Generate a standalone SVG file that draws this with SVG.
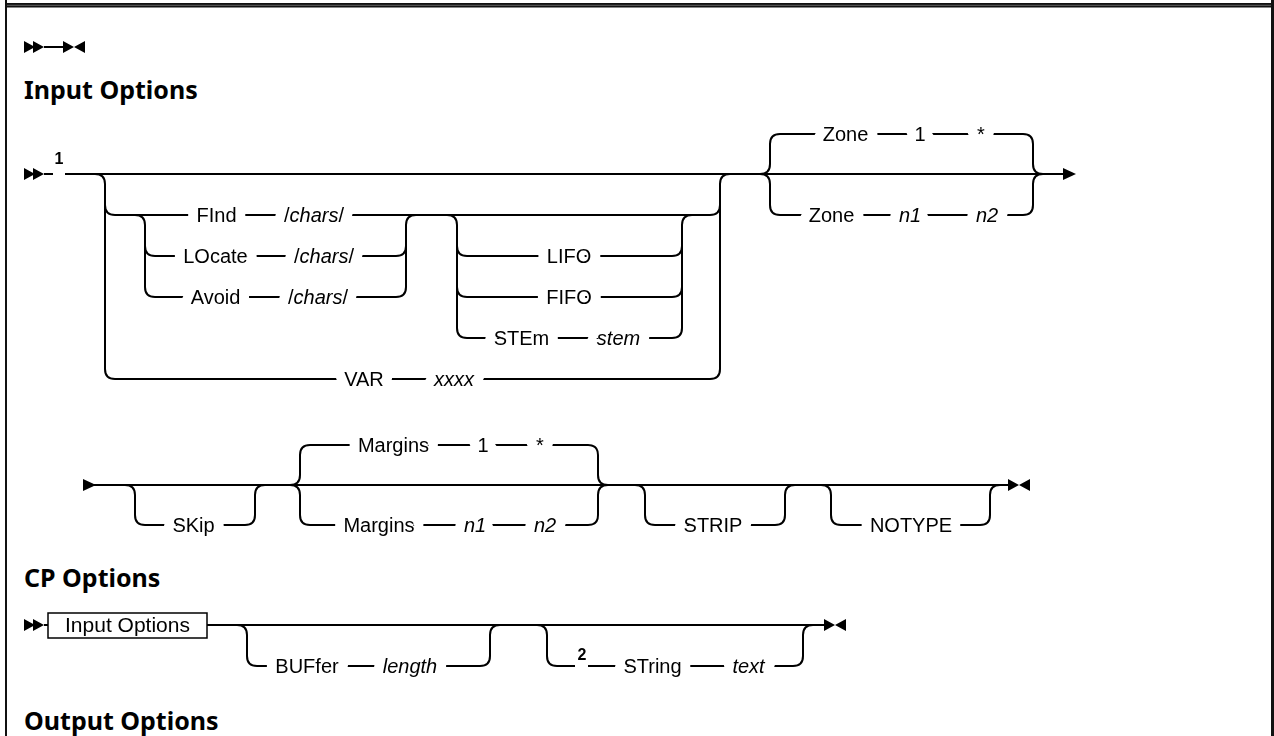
<svg xmlns="http://www.w3.org/2000/svg" width="1274" height="736" viewBox="0 0 1274 736">
<defs>
<style>
.ln{fill:none;stroke:#000;stroke-width:2}
.k{font-family:"Liberation Sans",Arial,sans-serif;font-size:20px;fill:#000;text-anchor:middle}
.v{font-style:italic}
.h{font-family:"Noto Sans","Liberation Sans",sans-serif;font-weight:bold;font-size:25px;fill:#000}
.sup{font-family:"Liberation Sans",Arial,sans-serif;font-size:16px;font-weight:bold;fill:#000;text-anchor:middle}
.bx{fill:#fff;stroke:#000;stroke-width:1.5}
.bt{font-family:"Liberation Sans",Arial,sans-serif;font-size:21px;fill:#000;text-anchor:middle}
.sym{fill:#000}
</style>
<path id="dbl" d="M0,-6 L11,0 L0,6 Z M9,-6 L20,0 L9,6 Z"/>
<path id="end" d="M0,-6 L11,0 L0,6 Z M22,-6 L11,0 L22,6 Z"/>
<path id="cont" d="M0,-6 L13,0 L0,6 Z"/>
<mask id="halo" maskUnits="userSpaceOnUse" x="0" y="0" width="1274" height="736">
<rect width="1274" height="736" fill="#fff"/>
<use href="#labels" fill="#000" stroke="#000" stroke-width="20" stroke-linejoin="round"/>
</mask>
</defs>
<rect width="1274" height="736" fill="#fff"/>
<g id="frame">
<rect x="5" y="3" width="1269" height="4.5" fill="#111"/>
<line x1="5" y1="5.3" x2="1274" y2="5.3" stroke="#777" stroke-width="0.8"/>
<rect x="5" y="0" width="2" height="736" fill="#111"/>
<rect x="1271" y="0" width="3" height="736" fill="#111"/>
</g>

<g id="headings">
<text class="h" x="24" y="99">Input Options</text>
<text class="h" x="24" y="587">CP Options</text>
<text class="h" x="24" y="730">Output Options</text>
</g>

<g id="connectors" mask="url(#halo)">
<!-- top empty syntax -->
<use href="#dbl" x="24" y="47" class="sym"/>
<path class="ln" d="M44 47 H63"/>
<use href="#end" x="63" y="47" class="sym"/>

<!-- Row 1 -->
<use href="#dbl" x="24" y="174" class="sym"/>
<path class="ln" d="M44 174 H53 M65 174 H1064"/>
<use href="#cont" x="1063" y="174" class="sym"/>
<path class="ln" d="M95 174 Q105 174 105 184 V369 Q105 379 115 379 H710 Q720 379 720 369 V184 Q720 174 730 174"/>
<path class="ln" d="M105 205 Q105 215 115 215 H710 Q720 215 720 205"/>
<path class="ln" d="M135 215 Q145 215 145 225 V287 Q145 297 155 297 H396 Q406 297 406 287 V225 Q406 215 416 215"/>
<path class="ln" d="M145 246 Q145 256 155 256 H396 Q406 256 406 246"/>
<path class="ln" d="M447 215 Q457 215 457 225 V328 Q457 338 467 338 H672 Q682 338 682 328 V225 Q682 215 692 215"/>
<path class="ln" d="M457 246 Q457 256 467 256 H672 Q682 256 682 246"/>
<path class="ln" d="M457 287 Q457 297 467 297 H672 Q682 297 682 287"/>
<path class="ln" d="M760 174 Q770 174 770 164 V144 Q770 134 780 134 H1023 Q1033 134 1033 144 V164 Q1033 174 1043 174"/>
<path class="ln" d="M760 174 Q770 174 770 184 V205 Q770 215 780 215 H1023 Q1033 215 1033 205 V184 Q1033 174 1043 174"/>

<!-- Row 2 -->
<use href="#cont" x="83" y="485" class="sym"/>
<path class="ln" d="M94 485 H1009"/>
<use href="#end" x="1008" y="485" class="sym"/>
<path class="ln" d="M125 485 Q135 485 135 495 V515 Q135 525 145 525 H245 Q255 525 255 515 V495 Q255 485 265 485"/>
<path class="ln" d="M290 485 Q300 485 300 475 V455 Q300 445 310 445 H588 Q598 445 598 455 V475 Q598 485 608 485"/>
<path class="ln" d="M290 485 Q300 485 300 495 V515 Q300 525 310 525 H588 Q598 525 598 515 V495 Q598 485 608 485"/>
<path class="ln" d="M635 485 Q645 485 645 495 V515 Q645 525 655 525 H775 Q785 525 785 515 V495 Q785 485 795 485"/>
<path class="ln" d="M821 485 Q831 485 831 495 V515 Q831 525 841 525 H980 Q990 525 990 515 V495 Q990 485 1000 485"/>

<!-- CP row -->
<use href="#dbl" x="24" y="625" class="sym"/>
<path class="ln" d="M44 625 H48 M207 625 H825"/>
<use href="#end" x="824" y="625" class="sym"/>
<path class="ln" d="M237 625 Q247 625 247 635 V656 Q247 666 257 666 H480 Q490 666 490 656 V635 Q490 625 500 625"/>
<path class="ln" d="M537 625 Q547 625 547 635 V656 Q547 666 557 666 H575 M588 666 H793 Q803 666 803 656 V635 Q803 625 813 625"/>
</g>

<g id="note1"><text class="sup" x="59" y="164">1</text></g>
<g id="note2"><text class="sup" x="582" y="660">2</text></g>
<g id="inputref"><rect class="bx" x="48" y="613" width="159" height="25"/><text class="bt" x="127.5" y="632">Input Options</text></g>

<g id="labels">
<g id="find"><text class="k" x="216.5" y="222">FInd</text><text class="k" x="314" y="222">/<tspan class="v">chars</tspan>/</text></g>
<g id="locate"><text class="k" x="215.5" y="263">LOcate</text><text class="k" x="324" y="263">/<tspan class="v">chars</tspan>/</text></g>
<g id="avoid"><text class="k" x="215.5" y="304">Avoid</text><text class="k" x="318" y="304">/<tspan class="v">chars</tspan>/</text></g>
<g id="lifo"><text class="k" x="569" y="263">LIFO</text></g>
<g id="fifo"><text class="k" x="569" y="304">FIFO</text></g>
<g id="stem"><text class="k" x="521.5" y="345">STEm</text><text class="k v" x="618.5" y="345">stem</text></g>
<g id="var"><text class="k" x="364" y="386">VAR</text><text class="k v" x="454" y="386">xxxx</text></g>
<g id="zone1"><text class="k" x="845.5" y="141">Zone</text><text class="k" x="920" y="141">1</text><text class="k" x="981" y="141">*</text></g>
<g id="zone2"><text class="k" x="831.5" y="222">Zone</text><text class="k v" x="910" y="222">n1</text><text class="k v" x="987" y="222">n2</text></g>
<g id="skip"><text class="k" x="193.5" y="532">SKip</text></g>
<g id="margins1"><text class="k" x="393.5" y="452">Margins</text><text class="k" x="483" y="452">1</text><text class="k" x="540" y="452">*</text></g>
<g id="margins2"><text class="k" x="379" y="532">Margins</text><text class="k v" x="475" y="532">n1</text><text class="k v" x="545" y="532">n2</text></g>
<g id="strip"><text class="k" x="713" y="532">STRIP</text></g>
<g id="notype"><text class="k" x="911" y="532">NOTYPE</text></g>
<g id="buffer"><text class="k" x="307" y="673">BUFfer</text><text class="k v" x="410" y="673">length</text></g>
<g id="string"><text class="k" x="652.5" y="673">STring</text><text class="k v" x="748.5" y="673">text</text></g>
</g>
</svg>
